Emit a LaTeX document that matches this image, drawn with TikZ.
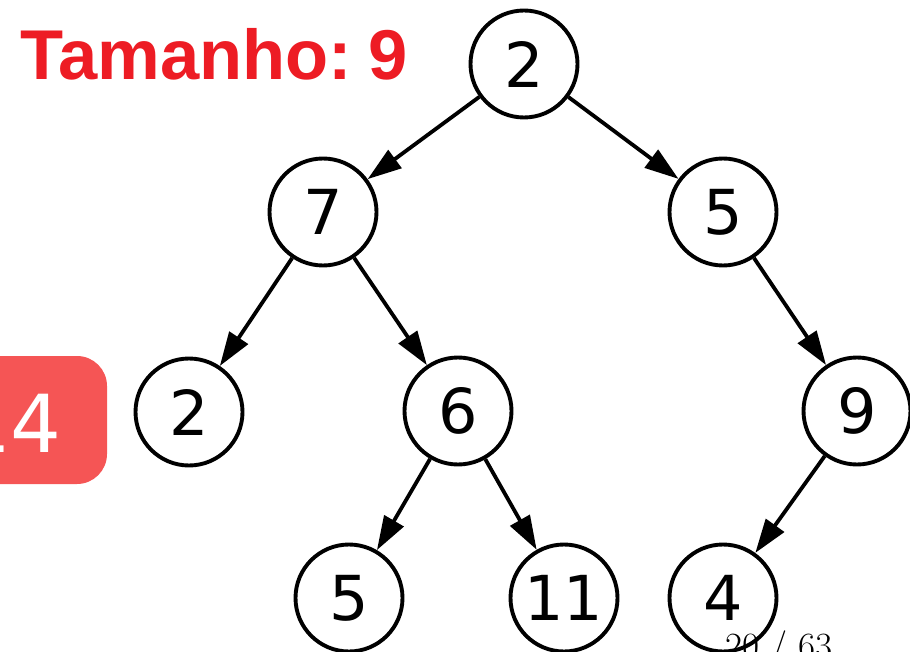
\documentclass[tikz,border=0pt]{standalone}
\usepackage{fontspec}
\newfontfamily\dvfont{DejaVu Sans}
\newfontfamily\libfont{Liberation Sans}
\usetikzlibrary{arrows.meta}
\definecolor{titlered}{HTML}{ED1C24}
\definecolor{boxred}{HTML}{F55555}
\tikzset{
  treenode/.style={circle,draw=black,line width=3.9pt,fill=white,inner sep=0pt,
    minimum size=107pt,font=\dvfont\fontsize{62}{70}\selectfont},
  treeedge/.style={line width=3.8pt,-{Triangle[length=34pt,width=22pt]}}
}
\begin{document}
\begin{tikzpicture}[x=1pt,y=-1pt]
\useasboundingbox (0,0) rectangle (910,652);
\clip (0,0) rectangle (910,652);
% slide remnants
\fill[boxred,rounded corners=30pt] (-60,356) rectangle (107,484);
\node[anchor=base east,inner sep=0pt,text=white,font=\dvfont\fontsize{80}{90}\selectfont] (pg) at (62,452) {14};
\node[anchor=base west,inner sep=0pt,text=titlered,font=\libfont\bfseries\fontsize{70.5}{78}\selectfont] (title) at (20.5,80) {Tamanho:\hspace{16pt}9};
% tree
\node[treenode] (r)  at (524,64)  {2};
\node[treenode] (a)  at (323,212) {7};
\node[treenode] (b)  at (723,212) {5};
\node[treenode] (c)  at (189,412) {2};
\node[treenode] (d)  at (458,411) {6};
\node[treenode] (e)  at (857,411) {9};
\node[treenode] (f)  at (349,598) {5};
\node[treenode] (g)  at (564,598) {11};
\node[treenode] (h)  at (723,598) {4};
\draw[treeedge] (r) -- (a);
\draw[treeedge] (r) -- (b);
\draw[treeedge] (a) -- (c);
\draw[treeedge] (a) -- (d);
\draw[treeedge] (b) -- (e);
\draw[treeedge] (d) -- (f);
\draw[treeedge] (d) -- (g);
\draw[treeedge] (e) -- (h);
\node[anchor=base west,inner sep=0pt,font=\fontsize{37}{40}\selectfont] (pnum) at (725,658.5) {20 / 63};
\end{tikzpicture}
\end{document}
